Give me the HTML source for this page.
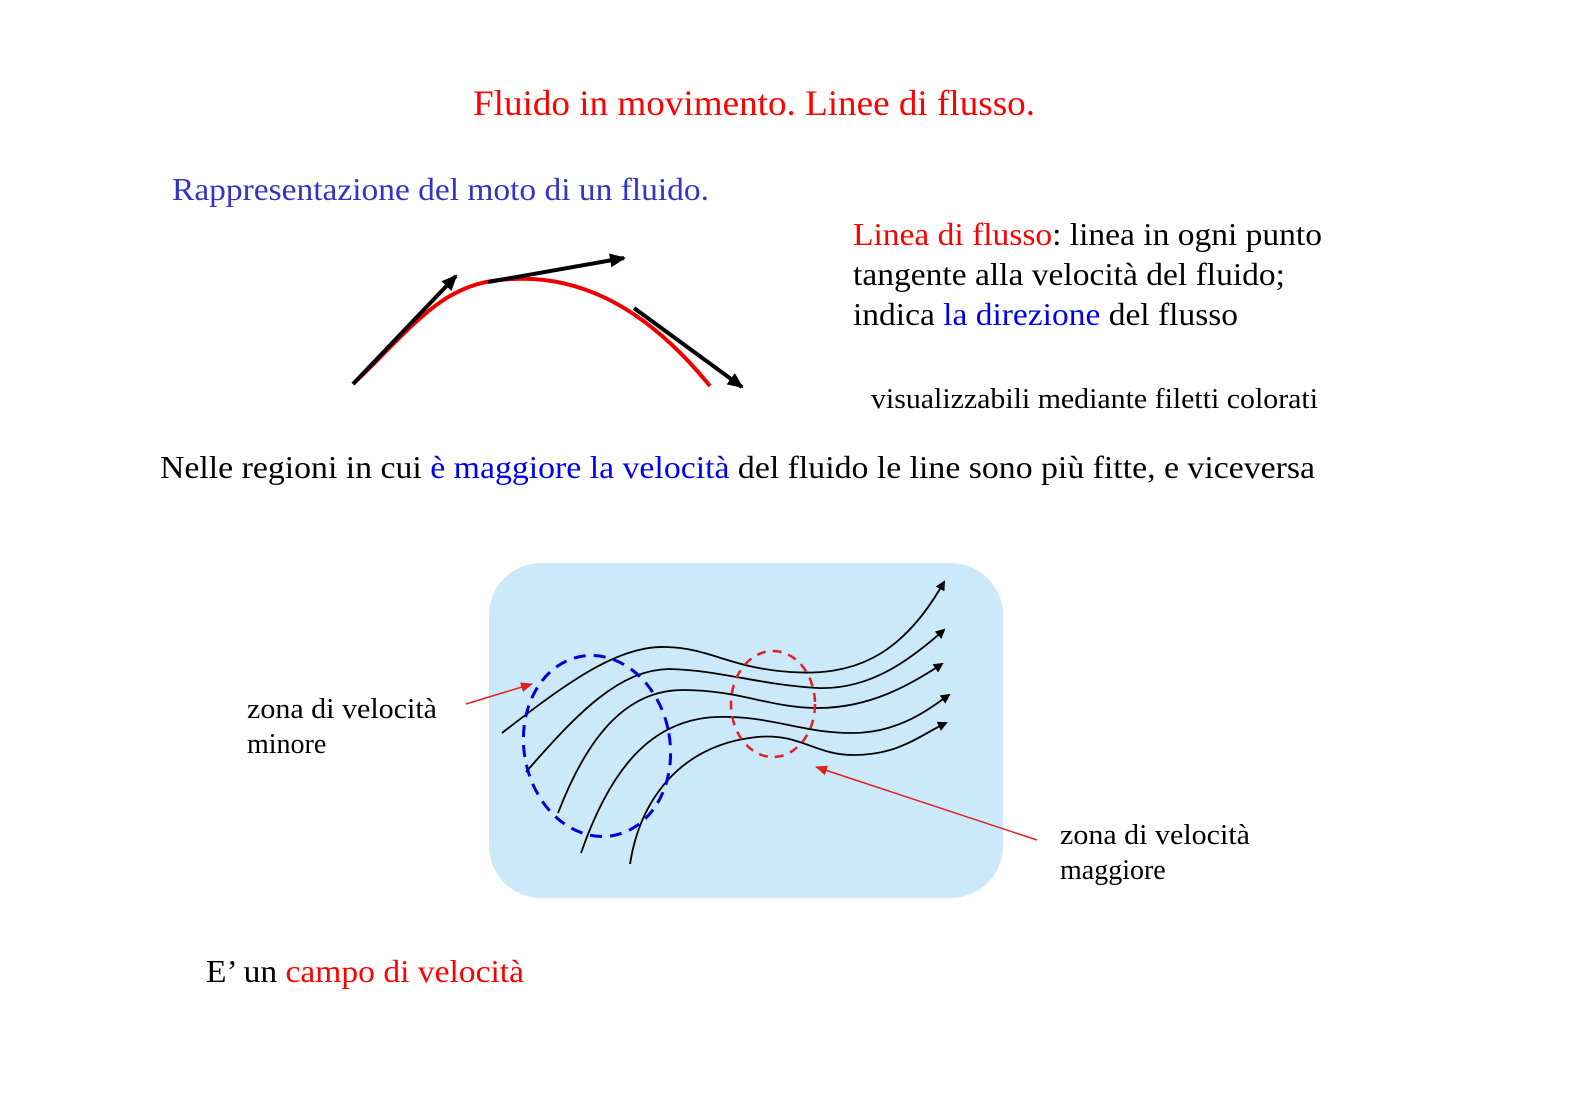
<!DOCTYPE html>
<html><head><meta charset="utf-8"><style>
body{margin:0;background:#fff;}
svg{display:block}
text{font-family:"Liberation Serif",serif;}
</style></head><body>
<svg width="1579" height="1117" viewBox="0 0 1579 1117" xmlns="http://www.w3.org/2000/svg" xml:space="preserve">
<defs>
<marker id="ab" markerWidth="10" markerHeight="10" refX="8" refY="5" orient="auto" markerUnits="userSpaceOnUse"><path d="M0,0 L10,5 L0,10 z" fill="#000"/></marker>
<marker id="ab2" markerWidth="16" markerHeight="14" refX="14" refY="7" orient="auto" markerUnits="userSpaceOnUse"><path d="M0,0 L16,7 L0,14 z" fill="#000"/></marker>
<marker id="ar" markerWidth="12" markerHeight="10" refX="11" refY="5" orient="auto" markerUnits="userSpaceOnUse"><path d="M0,0 L12,5 L0,10 z" fill="#e02020"/></marker>
</defs>
<text x="473" y="115" font-size="36" fill="#f00" textLength="562" lengthAdjust="spacingAndGlyphs">Fluido in movimento. Linee di flusso.</text>
<text x="172" y="200" font-size="32" fill="#3333cc" textLength="537" lengthAdjust="spacingAndGlyphs">Rappresentazione del moto di un fluido.</text>
<path d="M353,384 C410,330 440,285 500,280 C570,272 640,300 710,386" fill="none" stroke="#e00" stroke-width="4"/>
<line x1="353" y1="384" x2="456" y2="276" stroke="#000" stroke-width="4" marker-end="url(#ab2)"/>
<line x1="488" y1="282" x2="624" y2="258" stroke="#000" stroke-width="4" marker-end="url(#ab2)"/>
<line x1="634" y1="308" x2="742" y2="387" stroke="#000" stroke-width="4" marker-end="url(#ab2)"/>
<text x="853" y="245" font-size="32" textLength="469" lengthAdjust="spacingAndGlyphs"><tspan fill="#f00">Linea di flusso</tspan>: linea in ogni punto</text>
<text x="853" y="285" font-size="32" textLength="432" lengthAdjust="spacingAndGlyphs">tangente alla velocità del fluido;</text>
<text x="853" y="325" font-size="32" textLength="385" lengthAdjust="spacingAndGlyphs">indica <tspan fill="#0000ee">la direzione</tspan> del flusso</text>
<text x="871" y="408" font-size="28" textLength="447" lengthAdjust="spacingAndGlyphs">visualizzabili mediante filetti colorati</text>
<text x="160" y="478" font-size="32" textLength="1155" lengthAdjust="spacingAndGlyphs">Nelle regioni in cui <tspan fill="#0000ee">è maggiore  la velocità</tspan> del fluido le line sono più fitte, e viceversa</text>
<rect x="489" y="563" width="514" height="335" rx="52" fill="#cce9fa"/>
<g fill="none" stroke="#000" stroke-width="1.8" marker-end="url(#ab)">
<path d="M502,733 C570,680 620,645 666,647 C710,648 730,668 790,672 C850,676 900,660 944,582"/>
<path d="M526,772 C580,710 620,670 669,669 C720,670 760,685 818,688 C870,690 910,660 944,630"/>
<path d="M558,813 C590,730 630,690 683,690 C740,690 770,708 818,708 C870,708 910,685 942,664"/>
<path d="M581,853 C610,770 650,720 716,717 C770,715 800,733 852,733 C900,733 930,708 949,695"/>
<path d="M630,864 C640,800 680,745 757,737 C800,733 815,755 853,755 C900,755 920,735 946,723"/>
</g>
<ellipse cx="597" cy="746" rx="73" ry="91" transform="rotate(-10 597 746)" fill="none" stroke="#0000dd" stroke-width="3" stroke-dasharray="12,8"/>
<ellipse cx="773" cy="704" rx="42" ry="53" fill="none" stroke="#e02020" stroke-width="2.5" stroke-dasharray="9,7"/>
<line x1="466" y1="704" x2="532" y2="684" stroke="#e02020" stroke-width="1.5" marker-end="url(#ar)"/>
<line x1="1037" y1="840" x2="816" y2="767" stroke="#e02020" stroke-width="1.5" marker-end="url(#ar)"/>
<text x="247" y="718" font-size="28" textLength="190" lengthAdjust="spacingAndGlyphs">zona di velocità</text>
<text x="247" y="753" font-size="28">minore</text>
<text x="1060" y="844" font-size="28" textLength="190" lengthAdjust="spacingAndGlyphs">zona di velocità</text>
<text x="1060" y="879" font-size="28">maggiore</text>
<text x="206" y="982" font-size="32" textLength="318" lengthAdjust="spacingAndGlyphs">E’ un <tspan fill="#f00">campo di velocità</tspan></text>
</svg>
</body></html>
